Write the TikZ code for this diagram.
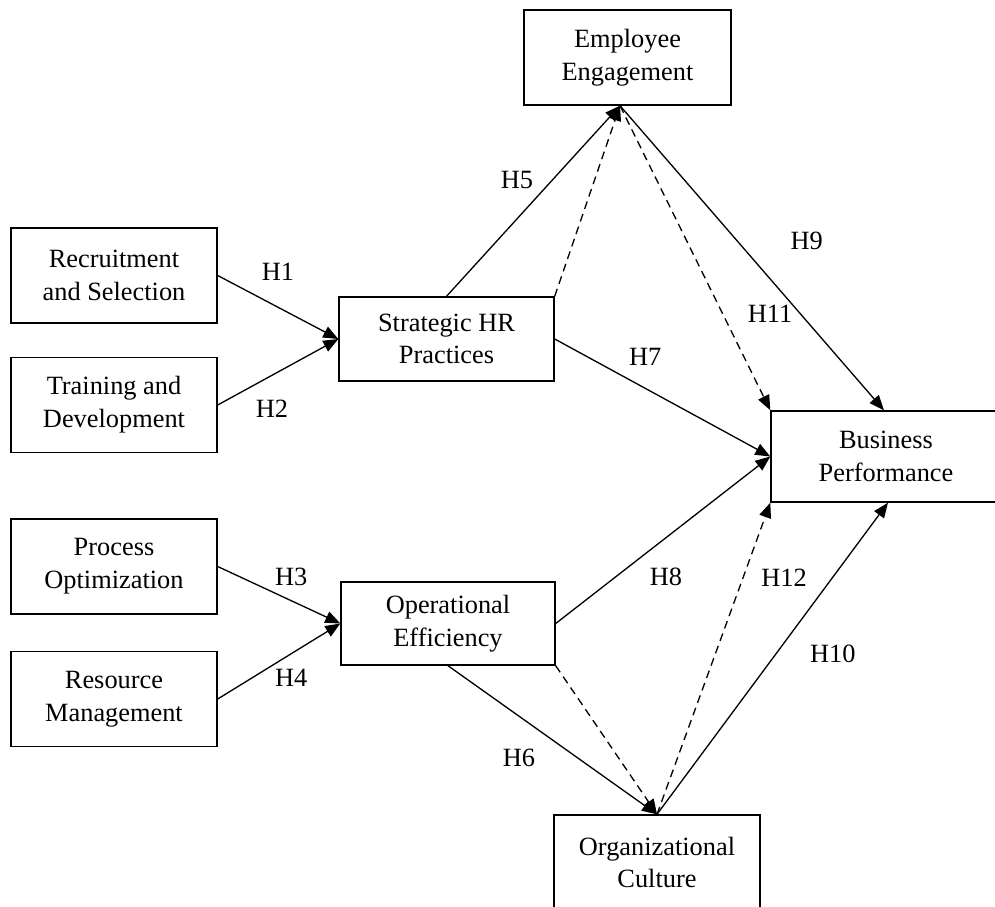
\documentclass[tikz,border=0pt]{standalone}
\usepackage{fontspec}
\setmainfont{Liberation Serif}
\usepackage{tikz}
\usetikzlibrary{arrows.meta, positioning}

\begin{document}
\begin{tikzpicture}[
    node distance=2cm,
    box/.style={rectangle, draw, line width=0.8pt, align=center, inner sep=0pt, font=\fontsize{15}{18.6}\selectfont, minimum width=4.12cm, minimum height=1.9cm},
    hyp/.style={font=\fontsize{15}{18}\selectfont},
    arrow/.style={-{Triangle[length=0.3cm, width=0.24cm]}, line width=0.75pt},
    medarrow/.style={arrow, dash pattern=on 4.5pt off 3pt}
]
    \useasboundingbox (0,0) rectangle (19.9,-18.14);

    % input constructs
    \node[box] (recruit) at (2.28,-5.51) {Recruitment\\and Selection};
    \node[box, node distance=2.59cm, below of=recruit] (training) {Training and\\Development};
    \node[box, node distance=3.23cm, below of=training] (process) {Process\\Optimization};
    \node[box, node distance=2.65cm, below of=process] (resource) {Resource\\Management};

    % mediators and outcome
    \node[box, minimum width=4.3cm, minimum height=1.68cm, node distance=6.65cm, right of=recruit, yshift=-1.27cm] (strategic) {Strategic HR\\Practices};
    \node[box, minimum width=4.28cm, minimum height=1.66cm, node distance=6.68cm, right of=process, yshift=-1.14cm] (operational) {Operational\\Efficiency};
    \node[box, minimum width=4.14cm, node distance=3.62cm, right of=strategic, yshift=5.63cm] (engage) {Employee\\Engagement};
    \node[box, minimum width=4.6cm, minimum height=1.82cm, node distance=8.79cm, right of=strategic, yshift=-2.35cm] (business) {Business\\Performance};
    \node[box, node distance=4.18cm, right of=operational, yshift=-4.78cm] (culture) {Organizational\\Culture};

    \coordinate (engageIn) at ([xshift=-0.15cm]engage.south);

    % direct paths
    \draw[arrow] (recruit.east) -- node[hyp, pos=0.5, yshift=0.7cm] {H1} (strategic.west);
    \draw[arrow] (training.east) -- node[hyp, pos=0.45, yshift=-0.66cm] {H2} (strategic.west);
    \draw[arrow] (process.east) -- node[hyp, pos=0.6, yshift=0.47cm] {H3} (operational.west);
    \draw[arrow] (resource.east) -- node[hyp, pos=0.6, yshift=-0.49cm] {H4} (operational.west);
    \draw[arrow] (strategic.north) -- node[hyp, pos=0.406, yshift=0.78cm] {H5} (engageIn);
    \draw[arrow] (operational.south) -- node[hyp, pos=0.34, yshift=-0.84cm] {H6} (culture.north);
    \draw[arrow] (strategic.east) -- node[hyp, pos=0.42, yshift=0.63cm] {H7} (business.west);
    \draw[arrow] (operational.east) -- node[hyp, pos=0.514, yshift=-0.79cm] {H8} (business.west);
    \draw[arrow] (engageIn) -- node[hyp, pos=0.444, xshift=1.39cm] {H9} ([xshift=-0.04cm]business.north);
    \draw[arrow] (culture.north) -- node[hyp, pos=0.514, xshift=1.14cm] {H10} ([xshift=0.04cm]business.south);

    % mediated paths
    \draw[medarrow] (strategic.north east) -- (engageIn);
    \draw[medarrow] (engageIn) -- node[hyp, pos=0.683, xshift=0.95cm] {H11} (business.north west);
    \draw[medarrow] (operational.south east) -- (culture.north);
    \draw[medarrow] (culture.north) -- node[hyp, pos=0.76, xshift=0.82cm] {H12} (business.south west);
\end{tikzpicture}
\end{document}
